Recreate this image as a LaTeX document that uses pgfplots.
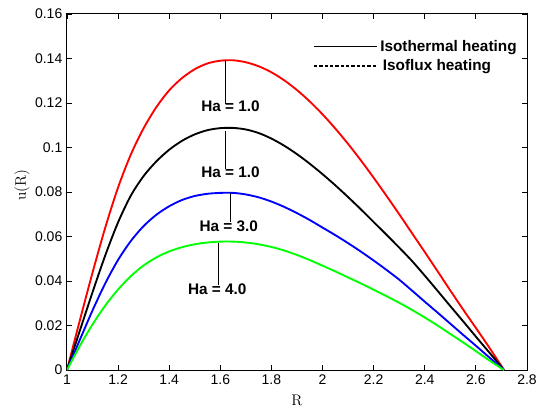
\documentclass[border=0pt]{standalone}
\usepackage{fontspec}
\setsansfont{Liberation Sans}
\usepackage{pgfplots}
\pgfplotsset{compat=1.18}

% velocity profiles u(R) across the annular gap
\pgfplotstableread{
R      a       b       c       d
1.00   0.0000  0.0000  0.0000  0.0000
1.05   0.0222  0.0176  0.0135  0.0108
1.10   0.0438  0.0350  0.0268  0.0205
1.15   0.0641  0.0516  0.0390  0.0290
1.20   0.0821  0.0664  0.0495  0.0362
1.25   0.0969  0.0784  0.0580  0.0422
1.30   0.1087  0.0872  0.0647  0.0470
1.35   0.1182  0.0938  0.0698  0.0506
1.40   0.1257  0.0990  0.0736  0.0533
1.45   0.1312  0.1030  0.0764  0.0552
1.50   0.1352  0.1059  0.0782  0.0565
1.55   0.1378  0.1078  0.0792  0.0573
1.60   0.1390  0.1087  0.0796  0.0577
1.65   0.1392  0.1088  0.0796  0.0577
1.70   0.1383  0.1081  0.0789  0.0573
1.75   0.1365  0.1065  0.0776  0.0565
1.80   0.1338  0.1040  0.0757  0.0553
1.85   0.1302  0.1008  0.0733  0.0537
1.90   0.1258  0.0970  0.0705  0.0517
1.95   0.1207  0.0927  0.0674  0.0494
2.00   0.1149  0.0880  0.0640  0.0469
2.05   0.1085  0.0830  0.0606  0.0443
2.10   0.1016  0.0777  0.0570  0.0416
2.15   0.0942  0.0722  0.0532  0.0389
2.20   0.0864  0.0665  0.0492  0.0361
2.25   0.0783  0.0608  0.0450  0.0332
2.30   0.0700  0.0550  0.0406  0.0302
2.35   0.0615  0.0490  0.0357  0.0270
2.40   0.0530  0.0424  0.0307  0.0236
2.45   0.0444  0.0356  0.0258  0.0200
2.50   0.0357  0.0287  0.0208  0.0162
2.55   0.0272  0.0219  0.0158  0.0124
2.60   0.0189  0.0150  0.0109  0.0085
2.65   0.0105  0.0082  0.0059  0.0045
2.71   0.0000  0.0000  0.0000  0.0000
}\profiles

\begin{document}
\begin{tikzpicture}[x=0.75pt,y=0.75pt]
\begin{axis}[
  at={(0,0)}, anchor=south west,
  scale only axis, width=345pt, height=267pt,
  xmin=1, xmax=2.8, ymin=0, ymax=0.16,
  xtick={1,1.2,1.4,1.6,1.8,2,2.2,2.4,2.6,2.8},
  xticklabels={1,1.2,1.4,1.6,1.8,2,2.2,2.4,2.6,2.8},
  ytick={0,0.02,0.04,0.06,0.08,0.1,0.12,0.14,0.16},
  yticklabels={0,0.02,0.04,0.06,0.08,0.1,0.12,0.14,0.16},
  /pgf/number format/assume math mode=true,
  tick align=inside, major tick length=3.75pt,
  axis line style={line width=0.75pt}, every tick/.style={black, line width=0.6pt},
  tick label style={font=\sffamily\fontsize{10.5}{12}\selectfont},
  xlabel={R}, ylabel={u(R)},
  label style={font=\rmfamily\fontsize{11.5}{13}\selectfont},
  xlabel style={at={(axis description cs:0.5,-0.0843)}, anchor=center},
  ylabel style={at={(axis description cs:-0.0978,0.52)}, anchor=center},
  legend style={draw=none, fill=none, at={(axis cs:1.962,0.1495)}, anchor=north west,
    font=\sffamily\bfseries\fontsize{11.5}{13}\selectfont, row sep=0.3pt,
    inner sep=0pt},
  legend cell align=left,
  legend image code/.code={\draw[#1] (0pt,0pt) -- (47pt,0pt);},
]
\addplot[red, line width=1.4pt, smooth, forget plot] table[x=R, y=a] {\profiles};
\addplot[black, line width=1.4pt, smooth, forget plot] table[x=R, y=b] {\profiles};
\addplot[blue, line width=1.4pt, smooth, forget plot] table[x=R, y=c] {\profiles};
\addplot[green, line width=1.4pt, smooth, forget plot] table[x=R, y=d] {\profiles};

\addlegendimage{black, line width=0.8pt}
\addlegendentry{Isothermal heating}
\addlegendimage{black, line width=1.4pt, dash pattern=on 2.4pt off 1.6pt}
\addlegendentry{\,Isoflux heating}

% Hartmann number labels with leader lines
\begin{scope}[every node/.style={font=\sffamily\bfseries\fontsize{11.5}{13}\selectfont, inner sep=0pt}]
\draw[line width=0.6pt] (axis cs:1.621,0.1392) -- (axis cs:1.621,0.1195);
\node at (axis cs:1.64,0.1187) {Ha = 1.0};
\draw[line width=0.6pt] (axis cs:1.621,0.1075) -- (axis cs:1.621,0.0905);
\node at (axis cs:1.64,0.0887) {Ha = 1.0};
\draw[line width=0.6pt] (axis cs:1.638,0.0796) -- (axis cs:1.638,0.0665);
\node at (axis cs:1.633,0.0647) {Ha = 3.0};
\draw[line width=0.6pt] (axis cs:1.592,0.0572) -- (axis cs:1.592,0.0382);
\node at (axis cs:1.588,0.0365) {Ha = 4.0};
\end{scope}
\end{axis}
\pgfresetboundingbox
\path (-67,-37) rectangle (472,370);
\end{tikzpicture}
\end{document}
